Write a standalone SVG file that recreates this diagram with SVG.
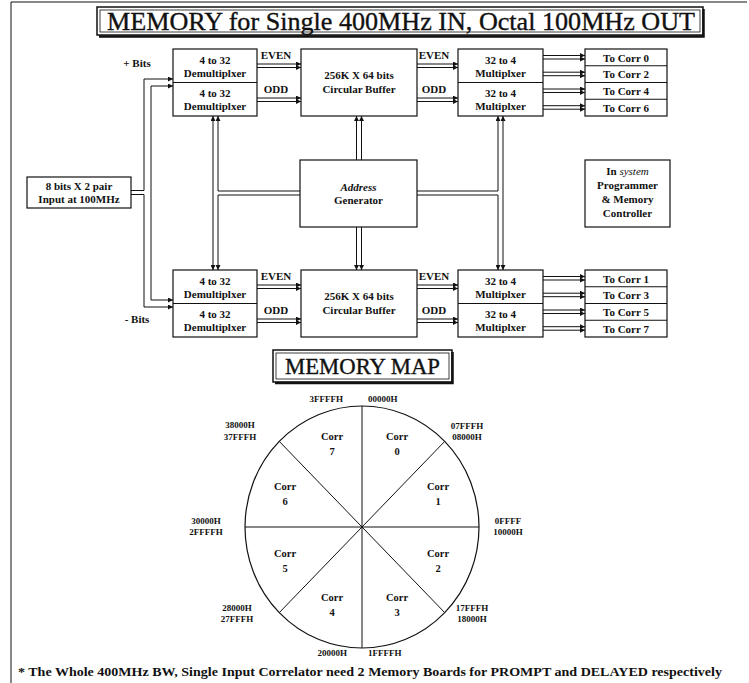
<svg xmlns="http://www.w3.org/2000/svg" width="749" height="683" viewBox="0 0 749 683">
<style>
.b{fill:#fff;stroke:#111;stroke-width:1.2}
.d{stroke:#111;stroke-width:1;fill:none}
.w{stroke:#111;stroke-width:1;fill:none}
.a{stroke:#111;stroke-width:1;fill:none;marker-end:url(#ah)}
.t{font-family:"Liberation Serif","Times New Roman",serif;font-weight:bold;font-size:11px;fill:#111;text-anchor:middle}
.s{font-family:"Liberation Serif","Times New Roman",serif;font-weight:bold;font-size:9px;fill:#111}
.c{font-family:"Liberation Serif","Times New Roman",serif;font-weight:bold;font-size:10.5px;fill:#111;text-anchor:middle}
.h{font-family:"Liberation Serif","Times New Roman",serif;fill:#111;stroke:#111;stroke-width:0.35}
</style>
<defs>
<marker id="ah" markerWidth="6" markerHeight="5" refX="5" refY="2.5" orient="auto" markerUnits="userSpaceOnUse">
<path d="M0,0 L5,2.5 L0,5 z" fill="#111"/>
</marker>
</defs>
<rect width="749" height="683" fill="#fff"/>
<g id="frame" class="w">
<path d="M11,683 V2 H747"/>
</g>
<g id="title">
<rect x="97" y="7" width="606" height="28" fill="#fff" stroke="#111" stroke-width="1.5"/>
<rect x="100" y="10" width="600" height="22" fill="none" stroke="#111" stroke-width="0.8"/>
<path d="M703.5,9 V36.5 H99" fill="none" stroke="#111" stroke-width="2.5"/>
<text class="h" x="107" y="30" font-size="26" textLength="588" lengthAdjust="spacingAndGlyphs">MEMORY for Single 400MHz IN, Octal 100MHz OUT</text>
</g>
<g id="connectors">
<path class="a" d="M257,64 H301"/><path class="a" d="M257,67.5 H301"/>
<path class="a" d="M257,98 H301"/><path class="a" d="M257,101.5 H301"/>
<path class="a" d="M417,64 H458"/><path class="a" d="M417,67.5 H458"/>
<path class="a" d="M417,98 H458"/><path class="a" d="M417,101.5 H458"/>
<path class="a" d="M257,285 H301"/><path class="a" d="M257,288.5 H301"/>
<path class="a" d="M257,319 H301"/><path class="a" d="M257,322.5 H301"/>
<path class="a" d="M417,285 H458"/><path class="a" d="M417,288.5 H458"/>
<path class="a" d="M417,319 H458"/><path class="a" d="M417,322.5 H458"/>
<path class="a" d="M543,55.5 H585"/><path class="a" d="M543,59 H585"/>
<path class="a" d="M543,72.2 H585"/><path class="a" d="M543,75.7 H585"/>
<path class="a" d="M543,89 H585"/><path class="a" d="M543,92.5 H585"/>
<path class="a" d="M543,105.7 H585"/><path class="a" d="M543,109.2 H585"/>
<path class="a" d="M543,276.5 H585"/><path class="a" d="M543,280 H585"/>
<path class="a" d="M543,293.2 H585"/><path class="a" d="M543,296.7 H585"/>
<path class="a" d="M543,310 H585"/><path class="a" d="M543,313.5 H585"/>
<path class="a" d="M543,326.7 H585"/><path class="a" d="M543,330.2 H585"/>
<path class="a" d="M131,190.5 H144 V79 H173"/>
<path class="a" d="M131,194.5 H144 V307 H173"/>
<path class="a" d="M151,193 V86 H173"/>
<path class="a" d="M151,193 V300 H173"/>
<path class="a" d="M213,193 V116"/><path class="a" d="M213,193 V270"/>
<path class="a" d="M218,191 V116"/><path class="a" d="M218,195 V270"/>
<path class="w" d="M218,191 H300 M218,195 H300"/>
<path class="a" d="M356.5,160 V116"/><path class="a" d="M361.5,160 V116"/>
<path class="a" d="M356.5,227 V270"/><path class="a" d="M361.5,227 V270"/>
<path class="a" d="M503,193 V116"/><path class="a" d="M503,193 V270"/>
<path class="a" d="M498,191 V116"/><path class="a" d="M498,195 V270"/>
<path class="w" d="M417,191 H498 M417,195 H498"/>
</g>
<g id="labels">
<text class="t" x="137" y="67">+ Bits</text>
<text class="t" x="137" y="323">- Bits</text>
<text class="t" x="276" y="59">EVEN</text>
<text class="t" x="276" y="93">ODD</text>
<text class="t" x="434" y="59">EVEN</text>
<text class="t" x="434" y="93">ODD</text>
<text class="t" x="276" y="280">EVEN</text>
<text class="t" x="276" y="314">ODD</text>
<text class="t" x="434" y="280">EVEN</text>
<text class="t" x="434" y="314">ODD</text>
</g>
<g id="demux-upper">
<rect class="b" x="173" y="49" width="84" height="67"/>
<path class="d" d="M173,82.5 H257"/>
<text class="t" x="215" y="63.5">4 to 32</text>
<text class="t" x="215" y="76.5">Demultiplxer</text>
<text class="t" x="215" y="97">4 to 32</text>
<text class="t" x="215" y="110">Demultiplxer</text>
</g>
<g id="buffer-upper">
<rect class="b" x="301" y="49" width="116" height="67"/>
<text class="t" x="359" y="79">256K X 64 bits</text>
<text class="t" x="359" y="93">Circular Buffer</text>
</g>
<g id="mux-upper">
<rect class="b" x="458" y="49" width="85" height="67"/>
<path class="d" d="M458,82.5 H543"/>
<text class="t" x="500.5" y="63.5">32 to 4</text>
<text class="t" x="500.5" y="76.5">Multiplxer</text>
<text class="t" x="500.5" y="97">32 to 4</text>
<text class="t" x="500.5" y="110">Multiplxer</text>
</g>
<g id="corr-upper">
<rect class="b" x="585" y="49" width="82" height="67"/>
<path class="d" d="M585,65.75 H667 M585,82.5 H667 M585,99.25 H667"/>
<text class="t" x="626" y="61.5">To Corr 0</text>
<text class="t" x="626" y="78.2">To Corr 2</text>
<text class="t" x="626" y="95">To Corr 4</text>
<text class="t" x="626" y="111.7">To Corr 6</text>
</g>
<g id="input">
<rect class="b" x="27" y="177" width="104" height="31"/>
<text class="t" x="79" y="190">8 bits X 2 pair</text>
<text class="t" x="79" y="203">Input at 100MHz</text>
</g>
<g id="address-generator">
<rect class="b" x="300" y="160" width="117" height="67"/>
<text class="t" x="358.5" y="191" font-style="italic">Address</text>
<text class="t" x="358.5" y="204">Generator</text>
</g>
<g id="in-system">
<rect class="b" x="585" y="160" width="85" height="67"/>
<text class="t" x="627.5" y="175">In <tspan font-style="italic" font-weight="normal">system</tspan></text>
<text class="t" x="627.5" y="189">Programmer</text>
<text class="t" x="627.5" y="203">&amp; Memory</text>
<text class="t" x="627.5" y="217">Controller</text>
</g>
<g id="demux-lower">
<rect class="b" x="173" y="270" width="84" height="67"/>
<path class="d" d="M173,303.5 H257"/>
<text class="t" x="215" y="284.5">4 to 32</text>
<text class="t" x="215" y="297.5">Demultiplxer</text>
<text class="t" x="215" y="318">4 to 32</text>
<text class="t" x="215" y="331">Demultiplxer</text>
</g>
<g id="buffer-lower">
<rect class="b" x="301" y="270" width="116" height="67"/>
<text class="t" x="359" y="300">256K X 64 bits</text>
<text class="t" x="359" y="314">Circular Buffer</text>
</g>
<g id="mux-lower">
<rect class="b" x="458" y="270" width="85" height="67"/>
<path class="d" d="M458,303.5 H543"/>
<text class="t" x="500.5" y="284.5">32 to 4</text>
<text class="t" x="500.5" y="297.5">Multiplxer</text>
<text class="t" x="500.5" y="318">32 to 4</text>
<text class="t" x="500.5" y="331">Multiplxer</text>
</g>
<g id="corr-lower">
<rect class="b" x="585" y="270" width="82" height="67"/>
<path class="d" d="M585,286.75 H667 M585,303.5 H667 M585,320.25 H667"/>
<text class="t" x="626" y="282.5">To Corr 1</text>
<text class="t" x="626" y="299.2">To Corr 3</text>
<text class="t" x="626" y="316">To Corr 5</text>
<text class="t" x="626" y="332.7">To Corr 7</text>
</g>
<g id="memory-map-title">
<rect x="273" y="350" width="179" height="32" fill="#fff" stroke="#111" stroke-width="1.5"/>
<rect x="276" y="353" width="173" height="26" fill="none" stroke="#111" stroke-width="0.8"/>
<path d="M452.5,352 V383 H275" fill="none" stroke="#111" stroke-width="2.5"/>
<text class="h" x="362.5" y="374" font-size="22.5" text-anchor="middle" textLength="155" lengthAdjust="spacingAndGlyphs">MEMORY MAP</text>
</g>
<g id="memory-map">
<ellipse cx="362" cy="527" rx="117" ry="121" fill="none" stroke="#111" stroke-width="1.2"/>
<path class="w" d="M362,406 V648 M245,527 H479 M279.3,441.4 L444.7,612.6 M444.7,441.4 L279.3,612.6"/>
<text class="c" x="332" y="440">Corr</text><text class="c" x="332" y="455">7</text>
<text class="c" x="397" y="440">Corr</text><text class="c" x="397" y="455">0</text>
<text class="c" x="285" y="490">Corr</text><text class="c" x="285" y="505">6</text>
<text class="c" x="438" y="490">Corr</text><text class="c" x="438" y="505">1</text>
<text class="c" x="285" y="557">Corr</text><text class="c" x="285" y="572">5</text>
<text class="c" x="438" y="557">Corr</text><text class="c" x="438" y="572">2</text>
<text class="c" x="332" y="601">Corr</text><text class="c" x="332" y="616">4</text>
<text class="c" x="397" y="601">Corr</text><text class="c" x="397" y="616">3</text>
<text class="s" x="343" y="402" text-anchor="end">3FFFFH</text>
<text class="s" x="368" y="402">00000H</text>
<text class="s" x="467" y="429" text-anchor="middle">07FFFH</text>
<text class="s" x="467" y="440" text-anchor="middle">08000H</text>
<text class="s" x="508" y="524" text-anchor="middle">0FFFF</text>
<text class="s" x="508" y="535" text-anchor="middle">10000H</text>
<text class="s" x="472" y="611" text-anchor="middle">17FFFH</text>
<text class="s" x="472" y="622" text-anchor="middle">18000H</text>
<text class="s" x="347" y="656" text-anchor="end">20000H</text>
<text class="s" x="368" y="656">1FFFFH</text>
<text class="s" x="237" y="611" text-anchor="middle">28000H</text>
<text class="s" x="237" y="622" text-anchor="middle">27FFFH</text>
<text class="s" x="206" y="524" text-anchor="middle">30000H</text>
<text class="s" x="206" y="535" text-anchor="middle">2FFFFH</text>
<text class="s" x="240" y="428" text-anchor="middle">38000H</text>
<text class="s" x="240" y="440" text-anchor="middle">37FFFH</text>
</g>
<g id="footnote">
<text x="18" y="676" font-family="Liberation Serif, Times New Roman, serif" font-size="13" font-weight="bold" fill="#111" textLength="704" lengthAdjust="spacingAndGlyphs">* The Whole 400MHz BW, Single Input Correlator need 2 Memory Boards for PROMPT and DELAYED respectively</text>
</g>
</svg>
